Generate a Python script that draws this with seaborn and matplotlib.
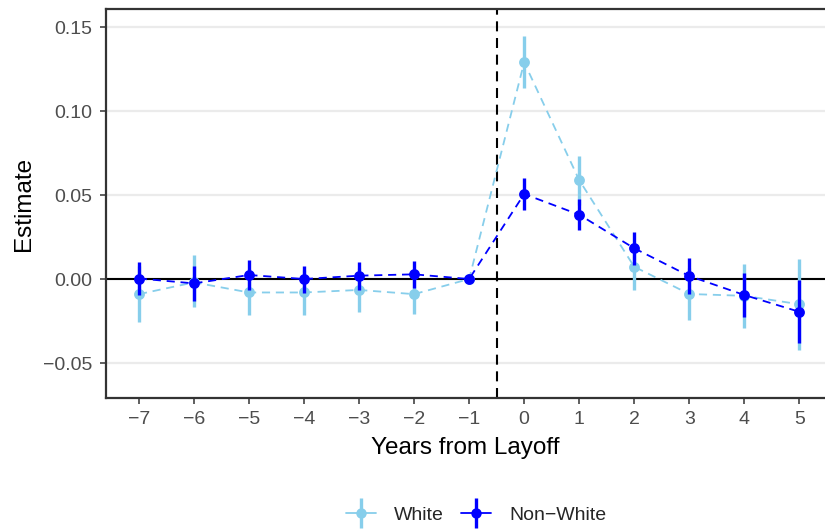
import numpy as np
import pandas as pd
import matplotlib
matplotlib.use("Agg")
import matplotlib.pyplot as plt
from matplotlib.lines import Line2D
from matplotlib.legend_handler import HandlerTuple
import seaborn as sns

# Event-study estimates by group, with 95% confidence bounds
years = [-7, -6, -5, -4, -3, -2, -1, 0, 1, 2, 3, 4, 5]

white_est = [-0.009, -0.002, -0.008, -0.008, -0.0065, -0.009, 0.0,
             0.129, 0.0589, 0.0073, -0.0089, -0.0100, -0.0150]
white_lo = [-0.0257, -0.0165, -0.0217, -0.0213, -0.0194, -0.0210, 0.0,
            0.1139, 0.0443, -0.0066, -0.0244, -0.0292, -0.0421]
white_hi = [0.0077, 0.0142, 0.0057, 0.0053, 0.0064, 0.0030, 0.0,
            0.1446, 0.0735, 0.0212, 0.0066, 0.0088, 0.0118]

nonwhite_est = [0.0003, -0.0026, 0.0024, 0.0000, 0.0020, 0.0028, 0.0,
                0.0506, 0.0383, 0.0183, 0.0018, -0.0095, -0.0195]
nonwhite_lo = [-0.0095, -0.0129, -0.0066, -0.0084, -0.0065, -0.0054, 0.0,
               0.0409, 0.0289, 0.0085, -0.0088, -0.0224, -0.0383]
nonwhite_hi = [0.0101, 0.0077, 0.0114, 0.0080, 0.0104, 0.0110, 0.0,
               0.0603, 0.0477, 0.0281, 0.0124, 0.0034, -0.0007]

groups = ["White", "Non\u2212White"]
colors = {"White": "#87CEEB", "Non\u2212White": "#0000FF"}

df = pd.concat([
    pd.DataFrame({"year": years, "est": white_est, "lo": white_lo,
                  "hi": white_hi, "group": groups[0]}),
    pd.DataFrame({"year": years, "est": nonwhite_est, "lo": nonwhite_lo,
                  "hi": nonwhite_hi, "group": groups[1]}),
], ignore_index=True)

sns.set_theme(style="white")
plt.rcParams["font.family"] = ["Liberation Sans", "DejaVu Sans"]

fig = plt.figure(figsize=(8.25, 5.31), dpi=100)
ax = fig.add_axes([0.1281, 0.2505, 0.8719, 0.7325])

# light horizontal grid
for yv in [-0.05, 0.0, 0.05, 0.10, 0.15]:
    ax.axhline(yv, color="#EBEBEB", lw=1.6, zorder=0)

ax.axhline(0, color="black", lw=1.5, zorder=1)
ax.axvline(-0.5, color="black", lw=1.5, ls=(0, (4.8, 3.2)), zorder=1)

for g in groups:
    sub = df[df["group"] == g]
    ax.vlines(sub["year"], sub["lo"], sub["hi"], color=colors[g], lw=2.4,
              zorder=3 if g == groups[0] else 5)

sns.lineplot(data=df, x="year", y="est", hue="group", palette=colors,
             hue_order=groups, marker="o", markersize=7.8, markeredgewidth=0,
             linewidth=1.3, dashes=False, ax=ax, legend=False, zorder=4)
for ln in ax.get_lines()[-2:]:
    ln.set_linestyle((0, (4.5, 3.2)))
ax.get_lines()[-1].set_zorder(6)

ax.set_xlim(-7.605, 5.467)
ax.set_ylim(-0.0708, 0.1607)
ax.set_xticks(years)
ax.set_xticklabels([str(y).replace("-", "\u2212") for y in years])
ax.set_yticks([-0.05, 0.0, 0.05, 0.10, 0.15])
ax.set_yticklabels(["\u22120.05", "0.00", "0.05", "0.10", "0.15"])

ax.tick_params(axis="both", which="major", length=4.5, width=1.1,
               color="#333333", labelcolor="#4D4D4D", labelsize=14,
               bottom=True, left=True, pad=5)
for side in ["top", "left", "bottom"]:
    ax.spines[side].set_color("#333333")
    ax.spines[side].set_linewidth(1.6)
ax.spines["right"].set_visible(False)

ax.set_xlabel("Years from Layoff", fontsize=17.5, color="black", labelpad=6)
ax.set_ylabel("Estimate", fontsize=17.5, color="black", labelpad=6)

handles = []
for g in groups:
    h_line = Line2D([], [], color=colors[g], lw=1.3, ls="-",
                    marker="o", markersize=7.5, markeredgewidth=0)
    h_bar = Line2D([], [], color=colors[g], ls="", marker="|",
                   markersize=21, markeredgewidth=2.4)
    handles.append((h_line, h_bar))

fig.legend(handles, groups, loc="center", bbox_to_anchor=(0.577, 0.03),
           ncol=2, frameon=False, fontsize=14, handlelength=1.55,
           columnspacing=0.87, handletextpad=0.93,
           handler_map={tuple: HandlerTuple(ndivide=1, pad=0)})

fig.savefig("out.png", dpi=100)
